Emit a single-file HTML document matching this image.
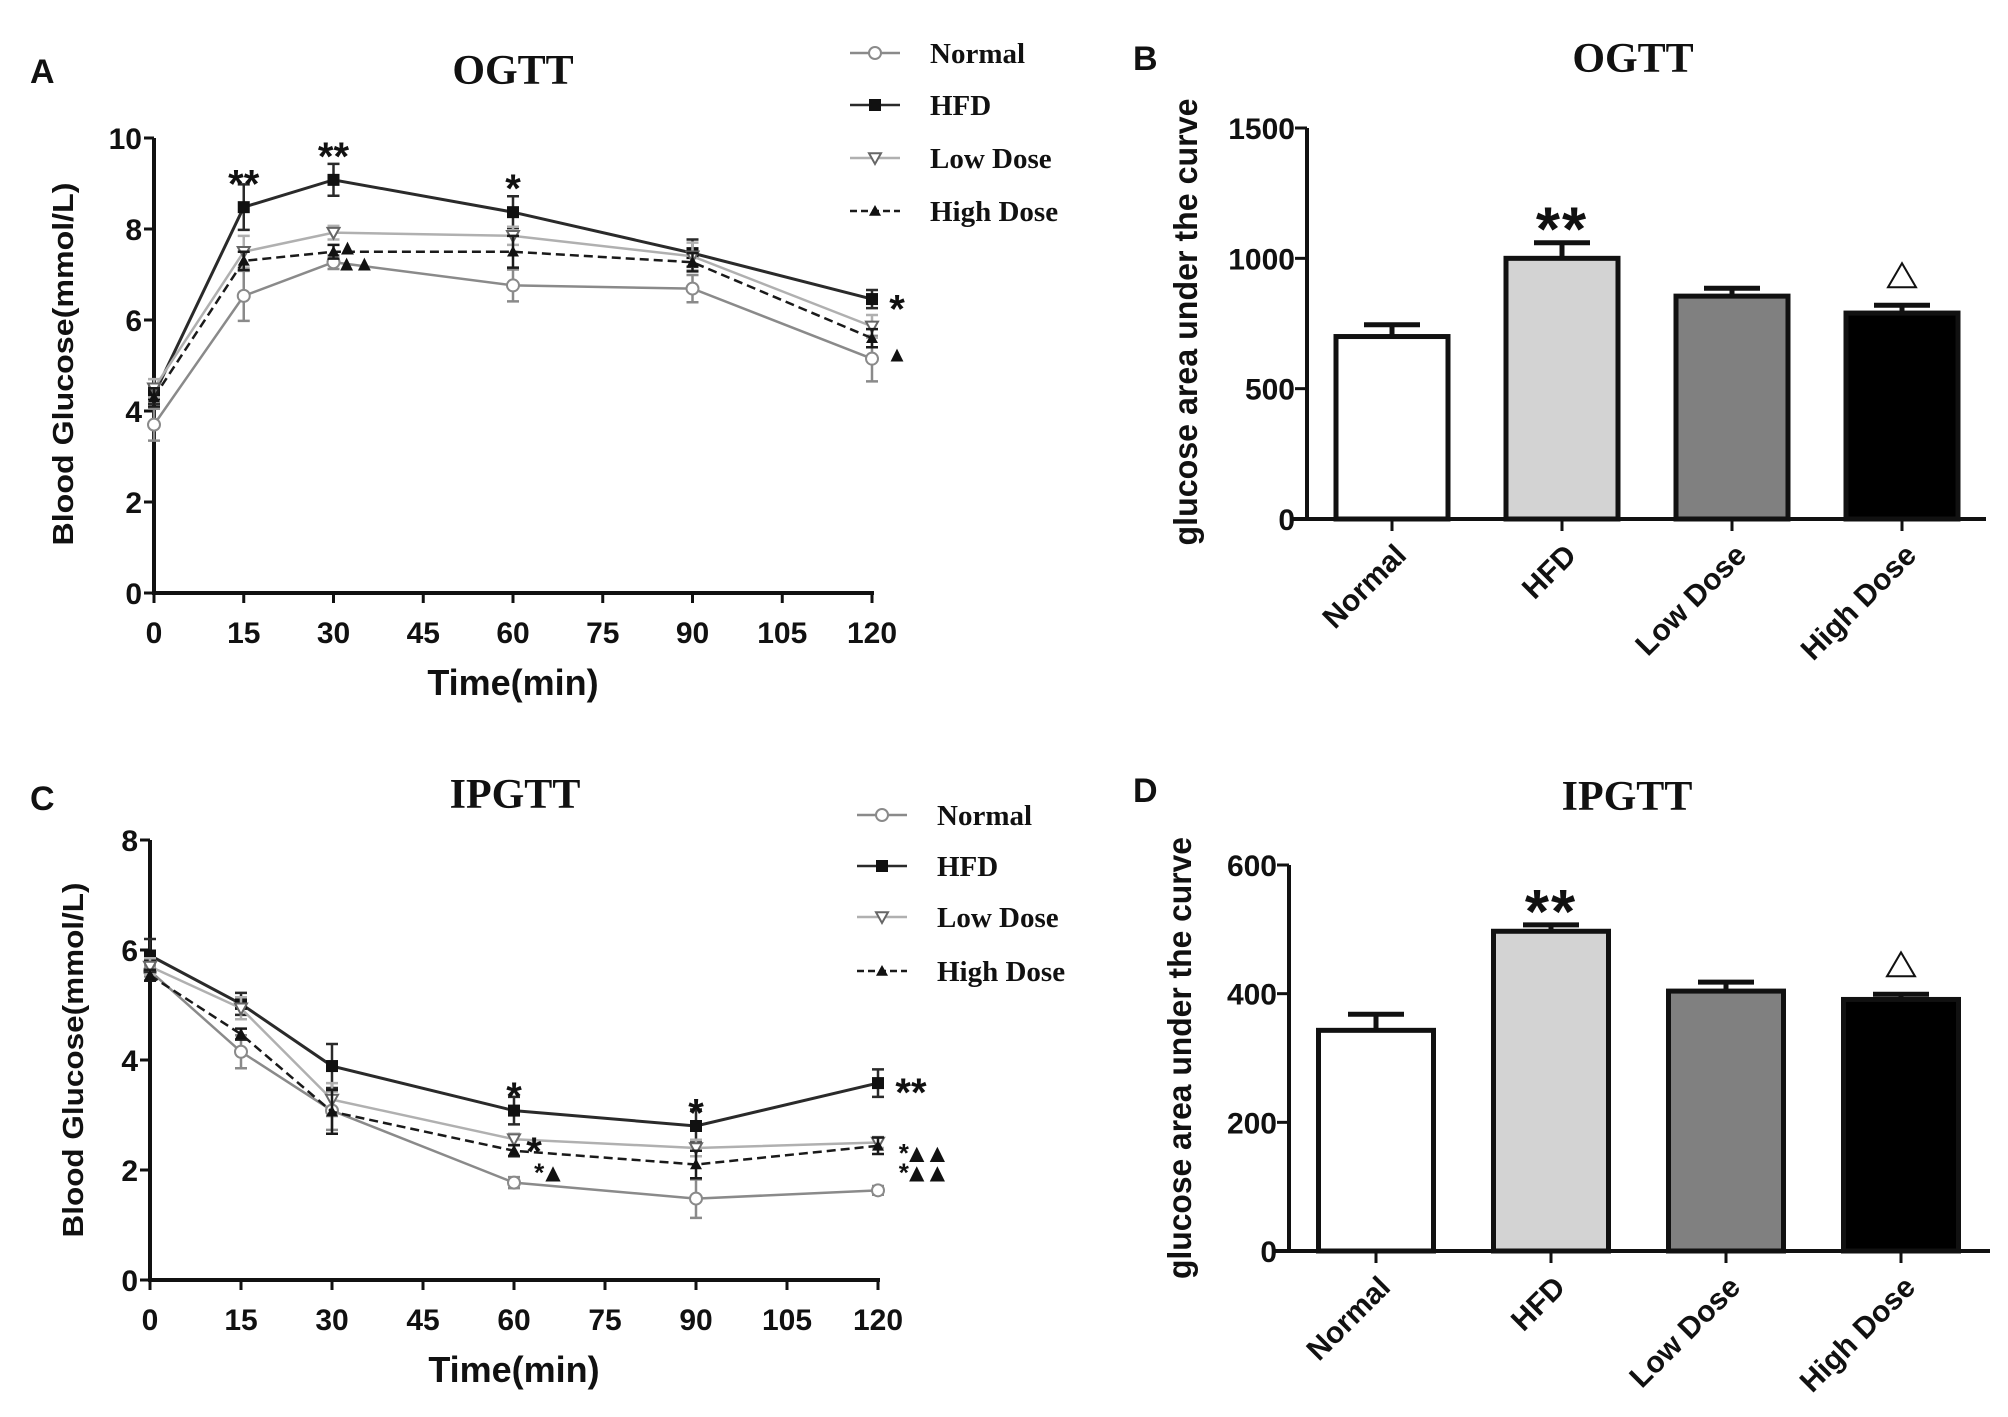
<!DOCTYPE html>
<html><head><meta charset="utf-8">
<style>
html,body{margin:0;padding:0;background:#fff;}
svg{display:block;}
.tick{font-family:"Liberation Sans",Arial,sans-serif;font-weight:bold;font-size:30px;fill:#111;}
.ttl{font-family:"Liberation Serif",serif;font-weight:bold;font-size:42px;fill:#111;}
.leg{font-family:"Liberation Serif",serif;font-weight:bold;font-size:29px;fill:#111;}
.ax{font-family:"Liberation Sans",Arial,sans-serif;font-weight:bold;fill:#111;}
.pl{font-family:"Liberation Sans",Arial,sans-serif;font-weight:bold;font-size:34px;fill:#111;}
.ann{font-family:"Liberation Sans",Arial,sans-serif;font-weight:bold;fill:#111;}
</style></head>
<body>
<svg id="fig" width="2008" height="1417" viewBox="0 0 2008 1417" xmlns="http://www.w3.org/2000/svg"></svg>
<script>
// ---------- data ----------
const times = [0, 15, 30, 60, 90, 120];
const xTicks = [0, 15, 30, 45, 60, 75, 90, 105, 120];
const groups = ["Normal", "HFD", "Low Dose", "High Dose"];

const ogttNormal = [3.7, 6.53, 7.27, 6.76, 6.69, 5.15];
const ogttHFD = [4.36, 8.48, 9.08, 8.37, 7.47, 6.46];
const ogttLow = [4.5, 7.5, 7.92, 7.85, 7.4, 5.86];
const ogttHigh = [4.3, 7.3, 7.5, 7.5, 7.27, 5.6];
const ogttNormalErr = [0.35, 0.55, 0.15, 0.35, 0.3, 0.5];
const ogttHFDErr = [0.2, 0.5, 0.35, 0.35, 0.3, 0.2];
const ogttLowErr = [0.2, 0.35, 0.15, 0.2, 0.3, 0.25];
const ogttHighErr = [0.2, 0.2, 0.15, 0.35, 0.2, 0.2];
const ogttYTicks = [0, 2, 4, 6, 8, 10];

const ipgttNormal = [5.62, 4.15, 3.08, 1.77, 1.48, 1.63];
const ipgttHFD = [5.9, 5.02, 3.89, 3.08, 2.8, 3.58];
const ipgttLow = [5.7, 4.94, 3.28, 2.56, 2.4, 2.5];
const ipgttHigh = [5.54, 4.47, 3.06, 2.35, 2.1, 2.44];
const ipgttNormalErr = [0.1, 0.3, 0.35, 0.1, 0.35, 0.08];
const ipgttHFDErr = [0.3, 0.2, 0.4, 0.25, 0.3, 0.25];
const ipgttLowErr = [0.15, 0.2, 0.3, 0.1, 0.15, 0.1];
const ipgttHighErr = [0.1, 0.1, 0.4, 0.1, 0.25, 0.15];
const ipgttYTicks = [0, 2, 4, 6, 8];

const aucOgtt = [700, 1000, 855, 790];
const aucOgttErr = [45, 60, 30, 30];
const aucOgttTicks = [0, 500, 1000, 1500];
const aucIpgtt = [343, 497, 404, 391];
const aucIpgttErr = [25, 10, 14, 8];
const aucIpgttTicks = [0, 200, 400, 600];

// ---------- helpers ----------
const NS = "http://www.w3.org/2000/svg";
const fig = document.getElementById("fig");
function mk(tag, attrs, parent, text) {
  const e = document.createElementNS(NS, tag);
  for (const k in attrs) e.setAttribute(k, attrs[k]);
  if (text !== undefined) e.textContent = text;
  (parent || fig).appendChild(e);
  return e;
}
const styles = [
  {stroke: "#8a8a8a", dash: "", marker: "circle"},
  {stroke: "#2a2a2a", dash: "", marker: "square"},
  {stroke: "#b0b0b0", dash: "", marker: "tridown"},
  {stroke: "#1a1a1a", dash: "9,5", marker: "triup"}
];
function marker(g, type, cx, cy, r, color) {
  let m;
  if (type === "circle") m = mk("circle", {cx: cx, cy: cy, r: r, fill: "#fff", stroke: color, "stroke-width": 2}, g);
  else if (type === "square") m = mk("rect", {x: cx - r, y: cy - r, width: 2 * r, height: 2 * r, fill: "#111"}, g);
  else if (type === "tridown") m = mk("polygon", {points: `${cx - r},${cy - r * 0.8} ${cx + r},${cy - r * 0.8} ${cx},${cy + r}`, fill: "#fff", stroke: "#666", "stroke-width": 2}, g);
  else m = mk("polygon", {points: `${cx - r},${cy + r * 0.8} ${cx + r},${cy + r * 0.8} ${cx},${cy - r}`, fill: "#111"}, g);
  
  
  return m;
}

function linePanel(o) {
  const g = mk("g", {});
  
  
  const X = v => o.x0 + (o.x1 - o.x0) * v / 120;
  const Y = v => o.y0 - (o.y0 - o.yTop) * v / o.yMax;
  let a = mk("line", {x1: o.x0, y1: Y(o.yMax), x2: o.x0, y2: o.y0 + 1, stroke: "#111", "stroke-width": 4}, g);
   
  a = mk("line", {x1: o.x0 - 2, y1: o.y0, x2: X(120) + 2, y2: o.y0, stroke: "#111", "stroke-width": 4}, g);
   
  o.yTicks.forEach(t => {
    mk("line", {x1: o.x0 - 10, y1: Y(t), x2: o.x0, y2: Y(t), stroke: "#111", "stroke-width": 3}, g);
    const tl = mk("text", {x: o.x0 - 12, y: Y(t) + 11, "text-anchor": "end", class: "tick"}, g, String(t));
     
  });
  xTicks.forEach(t => {
    mk("line", {x1: X(t), y1: o.y0, x2: X(t), y2: o.y0 + 10, stroke: "#111", "stroke-width": 3}, g);
    const tl = mk("text", {x: X(t), y: o.y0 + 50, "text-anchor": "middle", class: "tick"}, g, String(t));
     
  });
  let t = mk("text", {x: (o.x0 + o.x1) / 2, y: o.y0 + 102, "text-anchor": "middle", class: "ax", "font-size": 36}, g, "Time(min)");
   
  t = mk("text", {x: 0, y: 0, "text-anchor": "middle", class: "ax", "font-size": 29, textLength: o.ytLen, lengthAdjust: "spacingAndGlyphs", transform: `translate(${o.ytX},${o.ytY}) rotate(-90)`}, g, "Blood Glucose(mmol/L)");
   
  t = mk("text", {x: o.titleX, y: o.titleY, "text-anchor": "middle", class: "ttl"}, g, o.title);
   
  t = mk("text", {x: o.labX, y: o.labY, class: "pl"}, g, o.label);
   
  o.series.forEach((s, i) => {
    const st = styles[i];
    const sg = mk("g", {}, g);
    
    
    const pts = times.map((tm, k) => X(tm) + "," + Y(s[k])).join(" ");
    mk("polyline", {points: pts, fill: "none", stroke: st.stroke, "stroke-width": i === 1 ? 3 : 2.5, "stroke-dasharray": st.dash}, sg);
    times.forEach((tm, k) => {
      const e = o.errs[i][k], x = X(tm);
      const eb = mk("path", {d: `M${x},${Y(s[k] - e)}V${Y(s[k] + e)}M${x - 6},${Y(s[k] + e)}h12M${x - 6},${Y(s[k] - e)}h12`, stroke: st.stroke, "stroke-width": 2.5, fill: "none"}, sg);
       
      marker(sg, st.marker, x, Y(s[k]), 6, st.stroke);
    });
  });
  o.ann.forEach(an => {
    const e = mk("text", {x: X(an[0]) + an[3], y: Y(an[1]) + 14, "text-anchor": "middle", class: "ann", "font-size": an[4] || 40, "letter-spacing": an[5] || 0}, g, an[2]);
     
  });
  const lg = mk("g", {}, g);
   
  groups.forEach((nm, i) => {
    const st = styles[i], y = o.legY[i];
    const eg = mk("g", {}, lg);
     
    mk("line", {x1: o.legX, y1: y, x2: o.legX + 50, y2: y, stroke: st.stroke, "stroke-width": 2.5, "stroke-dasharray": st.dash ? "7,4" : ""}, eg);
    marker(eg, st.marker, o.legX + 25, y, 6, st.stroke);
    mk("text", {x: o.legX + 80, y: y + 10, class: "leg"}, eg, nm);
  });
}

function barPanel(o) {
  const g = mk("g", {});
  
  
  const Y = v => o.y0 - (o.y0 - o.yTop) * v / o.yMax;
  const fills = ["#ffffff", "#d3d3d3", "#808080", "#000000"];
  o.vals.forEach((v, i) => {
    const cx = o.c0 + o.step * i, w = o.bw;
    const bg = mk("g", {}, g);
    
    
    const top = Y(v + o.errs[i]);
    mk("path", {d: `M${cx},${Y(v)}V${top}M${cx - 28},${top}h56`, stroke: "#111", "stroke-width": 5, fill: "none"}, bg);
    mk("rect", {x: cx - w / 2, y: Y(v), width: w, height: o.y0 - Y(v), fill: fills[i], stroke: "#111", "stroke-width": 5}, bg);
    mk("line", {x1: cx, y1: o.y0, x2: cx, y2: o.y0 + 12, stroke: "#111", "stroke-width": 3}, bg);
    const tl = mk("text", {x: 0, y: 0, "text-anchor": "end", class: "tick", "font-size": 32, transform: `translate(${cx + 16},${o.y0 + 38}) rotate(-45)`}, g, groups[i]);
     
  });
  let a = mk("line", {x1: o.x0, y1: Y(o.yMax), x2: o.x0, y2: o.y0, stroke: "#111", "stroke-width": 4}, g);
   
  a = mk("line", {x1: o.x0 - 14, y1: o.y0, x2: o.xEnd, y2: o.y0, stroke: "#111", "stroke-width": 4}, g);
   
  o.ticks.forEach(t => {
    mk("line", {x1: o.x0 - 12, y1: Y(t), x2: o.x0, y2: Y(t), stroke: "#111", "stroke-width": 3}, g);
    const tl = mk("text", {x: o.x0 - 12, y: Y(t) + 11, "text-anchor": "end", class: "tick", "font-size": 31}, g, String(t));
     
  });
  let t = mk("text", {x: 0, y: 0, "text-anchor": "middle", class: "ax", "font-size": 33, textLength: o.ytLen, lengthAdjust: "spacingAndGlyphs", transform: `translate(${o.ytX},${o.ytY}) rotate(-90)`}, g, "glucose area under the curve");
   
  t = mk("text", {x: o.titleX, y: o.titleY, "text-anchor": "middle", class: "ttl"}, g, o.title);
   
  t = mk("text", {x: o.labX, y: o.labY, class: "pl"}, g, o.label);
   
  const hx = o.c0 + o.step;
  t = mk("text", {x: hx, y: Y(o.vals[1] + o.errs[1]) + 8, "text-anchor": "middle", class: "ann", "font-size": 62, "letter-spacing": 2}, g, "**");
   
  const dx = o.c0 + o.step * 3, dy = Y(o.vals[3] + o.errs[3]) - 18;
  t = mk("polygon", {points: `${dx - 14},${dy} ${dx + 14},${dy} ${dx},${dy - 24}`, fill: "none", stroke: "#111", "stroke-width": 2}, g);
   
}

linePanel({name: "panel-a-ogtt-line-chart", x0: 154, x1: 872, y0: 593, yTop: 138, yMax: 10, yTicks: ogttYTicks,
  series: [ogttNormal, ogttHFD, ogttLow, ogttHigh], errs: [ogttNormalErr, ogttHFDErr, ogttLowErr, ogttHighErr],
  title: "OGTT", titleX: 513, titleY: 84, label: "A", labX: 30, labY: 83,
  ytX: 73, ytY: 364, ytLen: 363, legX: 850, legY: [53, 105, 158, 211],
  ann: [[15, 9.0, "**", 0], [30, 9.6, "**", 0], [60, 8.9, "*", 0], [120, 6.25, "*", 25],
        [30, 7.75, "▲", 14, 22], [30, 7.4, "▲▲", 20, 22, -4], [120, 5.4, "▲", 25, 22]]});

linePanel({name: "panel-c-ipgtt-line-chart", x0: 150, x1: 878, y0: 1280, yTop: 840, yMax: 8, yTicks: ipgttYTicks,
  series: [ipgttNormal, ipgttHFD, ipgttLow, ipgttHigh], errs: [ipgttNormalErr, ipgttHFDErr, ipgttLowErr, ipgttHighErr],
  title: "IPGTT", titleX: 515, titleY: 808, label: "C", labX: 30, labY: 810,
  ytX: 83, ytY: 1060, ytLen: 355, legX: 857, legY: [815, 866, 917, 971],
  ann: [[60, 3.35, "*", 0], [90, 3.05, "*", 0], [120, 3.42, "**", 33],
        [60, 2.35, "*", 20], [60, 2.05, "*▲", 34, 26, -4], [120, 2.4, "*▲▲", 44, 26, -5], [120, 2.05, "*▲▲", 44, 26, -5]]});

barPanel({name: "panel-b-ogtt-auc-bar-chart", x0: 1307, y0: 519, yTop: 128, yMax: 1500, ticks: aucOgttTicks,
  vals: aucOgtt, errs: aucOgttErr, c0: 1392, step: 170, bw: 112, xEnd: 1986,
  title: "OGTT", titleX: 1633, titleY: 72, label: "B", labX: 1133, labY: 70,
  ytX: 1197, ytY: 322, ytLen: 447});

barPanel({name: "panel-d-ipgtt-auc-bar-chart", x0: 1289, y0: 1251, yTop: 865, yMax: 600, ticks: aucIpgttTicks,
  vals: aucIpgtt, errs: aucIpgttErr, c0: 1376, step: 175, bw: 115, xEnd: 1990,
  title: "IPGTT", titleX: 1627, titleY: 810, label: "D", labX: 1133, labY: 802,
  ytX: 1191, ytY: 1058, ytLen: 442});
</script>
</body></html>
